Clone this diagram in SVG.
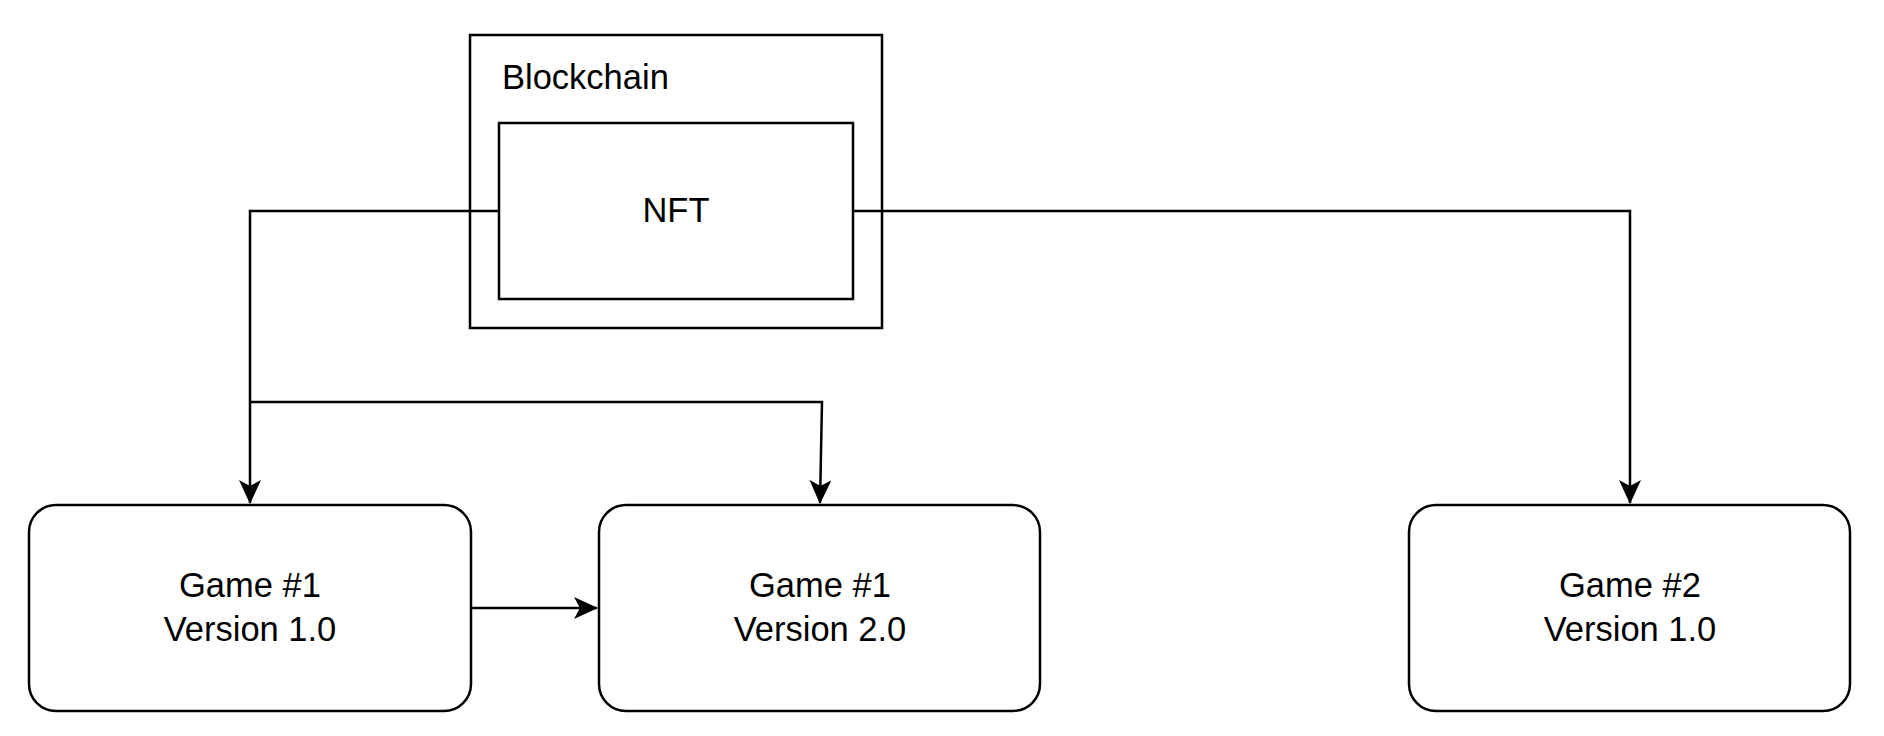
<svg xmlns="http://www.w3.org/2000/svg" width="1884" height="736" viewBox="0 0 1884 736">
<style>
.box{fill:#fff;stroke:#000;stroke-width:2.5}
.edge{fill:none;stroke:#000;stroke-width:2.5}
.lbl{font-family:"Liberation Sans",Arial,Helvetica,sans-serif;font-size:34.5px;fill:#000}
.c{text-anchor:middle}
</style>
<defs>
<marker id="arr" viewBox="0 0 24 22" refX="23" refY="11" markerWidth="24" markerHeight="22" orient="auto" markerUnits="userSpaceOnUse">
<path d="M0,0 L24,11 L0,22 L6,11 Z" fill="#000"/>
</marker>
</defs>
<rect width="1884" height="736" fill="#fff"/>
<g id="blockchain">
<rect class="box" x="470" y="35" width="412" height="293"/>
<text class="lbl" x="502" y="89">Blockchain</text>
</g>
<g id="nft">
<rect class="box" x="499" y="123" width="354" height="176"/>
<text class="lbl c" x="676" y="222">NFT</text>
</g>
<g id="game1v1">
<rect class="box" x="29" y="505" width="442" height="206" rx="27" ry="27"/>
<text class="lbl c" x="250" y="597">Game #1</text>
<text class="lbl c" x="250" y="641">Version 1.0</text>
</g>
<g id="game1v2">
<rect class="box" x="599" y="505" width="441" height="206" rx="27" ry="27"/>
<text class="lbl c" x="820" y="597">Game #1</text>
<text class="lbl c" x="820" y="641">Version 2.0</text>
</g>
<g id="game2v1">
<rect class="box" x="1409" y="505" width="441" height="206" rx="27" ry="27"/>
<text class="lbl c" x="1630" y="597">Game #2</text>
<text class="lbl c" x="1630" y="641">Version 1.0</text>
</g>
<g id="connectors">
<path class="edge" d="M499 211 L250 211 L250 503" marker-end="url(#arr)"/>
<path class="edge" d="M250 402 L822 402 L820 503" marker-end="url(#arr)"/>
<path class="edge" d="M853 211 L1630 211 L1630 503" marker-end="url(#arr)"/>
<path class="edge" d="M471 608 L597 608" marker-end="url(#arr)"/>
</g>
</svg>
